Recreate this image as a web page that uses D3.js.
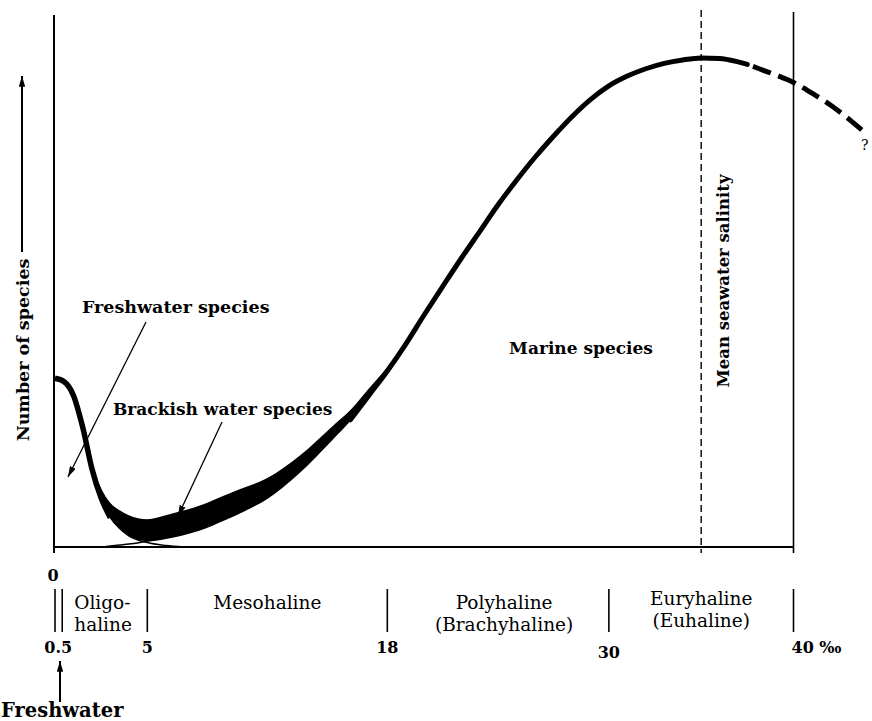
<!DOCTYPE html>
<html>
<head>
<meta charset="utf-8">
<script src="https://cdnjs.cloudflare.com/ajax/libs/d3/7.8.5/d3.min.js"></script>
<style>
    body { margin: 0; background: #fff; }
    svg { display: block; }
    text { font-family: 'DejaVu Serif', serif; fill: #000; }
</style>
</head>
<body>
<div id="chart"></div>
<script>
//Datos (salinidad en ‰, número de especies en unidades relativas)
const salinity   = [0, 0.5, 1, 1.5, 2, 2.5, 3, 3.5, 4, 5, 6, 7, 8, 9, 10, 11.5, 13.3, 15, 16, 17, 18, 19, 20, 21, 22, 23, 24, 25, 26, 27, 28, 29, 30, 31, 32, 33, 34, 35, 36, 37, 37.5];
const freshwater = [34.5, 33.8, 31, 24.5, 16, 10, 6, 3.8, 2.3, 0.9, 0.3, 0, null, null, null, null, null, null, null, null, null, null, null, null, null, null, null, null, null, null, null, null, null, null, null, null, null, null, null, null, null];
const marine     = [null, null, null, null, null, 0, 0.2, 0.4, 0.6, 1.2, 1.8, 2.6, 3.7, 5.3, 7.0, 10, 15.5, 22, 26, 31, 36, 41.5, 47.5, 53.3, 59, 64.5, 70, 75, 79.7, 84, 88, 91.5, 94.3, 96.3, 97.8, 98.9, 99.6, 100, 99.9, 99.2, 98.7];
const brackish   = [null, null, null, 0.3, 1.0, 2.0, 3.0, 3.7, 4.2, 4.5, 4.7, 4.9, 5.0, 5.0, 4.8, 4.1, 3.3, 2.6, 2.0, 1.4, 0.8, 0.46, null, null, null, null, null, null, null, null, null, null, null, null, null, null, null, null, null, null, null];

//Continuación incierta (discontinua)
const salinityBeyond = [37.5, 38, 39, 40, 41, 42, 43, 44];
const marineBeyond   = [98.7, 98, 96.6, 95, 92.8, 90.4, 87.5, 84.3];

const meanSeawater = 35;
const zoneBounds = [0, 0.5, 5, 18, 30, 40];
const zoneTickLabels = ['0.5', '5', '18', '30', '40 ‰'];
const zoneNames = [['Oligo-', 'haline'], ['Mesohaline'], ['Polyhaline', '(Brachyhaline)'], ['Euryhaline', '(Euhaline)']];

let margin = {top: 58, right: 78, bottom: 174, left: 55},
    width = 872,
    height = 721;

let svg = d3.select('#chart')
    .append('svg')
        .attr('width', width)
        .attr('height', height);

let x = d3.scaleLinear()
    .domain([0, 40])
    .range([margin.left, width - margin.right - 0.5]);

let y = d3.scaleLinear()
    .domain([0, 100])
    .range([height - margin.bottom, margin.top]);

let rows = salinity.map(function(s, i) { return {s: s, f: freshwater[i], m: marine[i], b: brackish[i]}; });
let beyond = salinityBeyond.map(function(s, i) { return {s: s, m: marineBeyond[i]}; });

//Puntas de flecha
svg.append('defs').append('marker')
    .attr('id', 'head')
    .attr('viewBox', '0 0 10 6')
    .attr('refX', 10).attr('refY', 3)
    .attr('markerWidth', 11).attr('markerHeight', 6.5)
    .attr('markerUnits', 'userSpaceOnUse')
    .attr('orient', 'auto')
    .append('path')
        .attr('d', 'M0,0 L10,3 L0,6 Z')
        .attr('fill', '#000');

//Ejes y líneas verticales
let base = y(0);
svg.append('line')
    .attr('x1', x(0) - 1).attr('x2', x(0) - 1)
    .attr('y1', 15).attr('y2', base + 6)
    .attr('stroke', '#000').attr('stroke-width', 2);

svg.append('line')
    .attr('x1', x(0) - 1).attr('x2', x(40))
    .attr('y1', base).attr('y2', base)
    .attr('stroke', '#000').attr('stroke-width', 1.8);

svg.append('line')
    .attr('x1', x(40)).attr('x2', x(40))
    .attr('y1', 12).attr('y2', base + 6)
    .attr('stroke', '#000').attr('stroke-width', 1.6);

svg.append('line')
    .attr('x1', x(meanSeawater)).attr('x2', x(meanSeawater))
    .attr('y1', 10).attr('y2', base + 6)
    .attr('stroke', '#000').attr('stroke-width', 1.4)
    .attr('stroke-dasharray', '7,4');

//Área de especies salobres (por encima de la envolvente inferior)
let low = function(d) { return Math.max(d.f == null ? 0 : d.f, d.m == null ? 0 : d.m); };

let area = d3.area()
    .defined(function(d) { return d.b != null; })
    .x(function(d) { return x(d.s); })
    .y0(function(d) { return y(low(d)); })
    .y1(function(d) { return y(low(d) + d.b); })
    .curve(d3.curveMonotoneX);

svg.append('path')
    .datum(rows)
    .attr('d', area)
    .attr('fill', '#000');

let lineOf = function(key) {
    return d3.line()
        .defined(function(d) { return d[key] != null; })
        .x(function(d) { return x(d.s); })
        .y(function(d) { return y(d[key]); })
        .curve(d3.curveMonotoneX);
};

//Agua dulce
svg.append('path')
    .datum(rows)
    .attr('d', lineOf('f'))
    .attr('fill', 'none').attr('stroke', '#000').attr('stroke-width', 1.5);

svg.append('path')
    .datum(rows.filter(function(d) { return d.s <= 3; }))
    .attr('d', lineOf('f'))
    .attr('fill', 'none').attr('stroke', '#000').attr('stroke-width', 5.5);

//Marinas
svg.append('path')
    .datum(rows)
    .attr('d', lineOf('m'))
    .attr('fill', 'none').attr('stroke', '#000').attr('stroke-width', 1.5);

svg.append('path')
    .datum(rows.filter(function(d) { return d.s >= 16; }))
    .attr('d', lineOf('m'))
    .attr('fill', 'none').attr('stroke', '#000').attr('stroke-width', 5)
    .attr('stroke-linecap', 'round');

svg.append('path')
    .datum(beyond)
    .attr('d', lineOf('m'))
    .attr('fill', 'none').attr('stroke', '#000').attr('stroke-width', 5)
    .attr('stroke-dasharray', '19,8')
    .attr('stroke-dashoffset', 21);

svg.append('text')
    .attr('x', 861).attr('y', 150)
    .style('font-size', '14px')
    .text('?');

//Etiquetas de especies
svg.append('text')
    .attr('x', 82).attr('y', 313)
    .style('font-size', '17.5px').style('font-weight', 'bold')
    .text('Freshwater species');

svg.append('line')
    .attr('x1', 146).attr('y1', 322)
    .attr('x2', 68).attr('y2', 477)
    .attr('stroke', '#000').attr('stroke-width', 1.3)
    .attr('marker-end', 'url(#head)');

svg.append('text')
    .attr('x', 113).attr('y', 415)
    .style('font-size', '17px').style('font-weight', 'bold')
    .text('Brackish water species');

svg.append('line')
    .attr('x1', 222).attr('y1', 422)
    .attr('x2', 178).attr('y2', 516)
    .attr('stroke', '#000').attr('stroke-width', 1.3)
    .attr('marker-end', 'url(#head)');

svg.append('text')
    .attr('x', 581).attr('y', 354)
    .attr('text-anchor', 'middle')
    .style('font-size', '17px').style('font-weight', 'bold')
    .text('Marine species');

svg.append('text')
    .attr('transform', 'translate(729,' + 281 + ') rotate(-90)')
    .attr('text-anchor', 'middle')
    .style('font-size', '16.5px').style('font-weight', 'bold')
    .text('Mean seawater salinity');

//Título eje Y con flecha
svg.append('text')
    .attr('transform', 'translate(29,' + 350 + ') rotate(-90)')
    .attr('text-anchor', 'middle')
    .style('font-size', '17.5px').style('font-weight', 'bold')
    .text('Number of species');

svg.append('line')
    .attr('x1', 22).attr('x2', 22)
    .attr('y1', 252).attr('y2', 76)
    .attr('stroke', '#000').attr('stroke-width', 2)
    .attr('marker-end', 'url(#head)');

//Zonas de salinidad
svg.append('text')
    .attr('x', x(0) - 2).attr('y', 581)
    .attr('text-anchor', 'middle')
    .style('font-size', '16px').style('font-weight', 'bold')
    .text('0');

svg.selectAll('.zone-line')
    .data(zoneBounds)
    .enter()
    .append('line')
    .attr('class', 'zone-line')
    .attr('x1', function(d) { return d == 0.5 ? x(d) - 2 : x(d); })
    .attr('x2', function(d) { return d == 0.5 ? x(d) - 2 : x(d); })
    .attr('y1', 589).attr('y2', 632)
    .attr('stroke', '#000').attr('stroke-width', 1.6);

svg.selectAll('.zone-tick')
    .data(zoneTickLabels)
    .enter()
    .append('text')
    .attr('class', 'zone-tick')
    .attr('x', function(d, i) { let b = zoneBounds[i + 1]; return i == 4 ? x(b) - 2 : (i == 0 ? x(b) - 6 : x(b)); })
    .attr('y', function(d, i) { return i == 3 ? 658 : 653; })
    .attr('text-anchor', function(d, i) { return i == 4 ? 'start' : 'middle'; })
    .style('font-size', '16px').style('font-weight', 'bold')
    .text(function(d) { return d; });

zoneNames.forEach(function(names, i) {
    let mid = (zoneBounds[i + 1] + zoneBounds[i + 2]) / 2;
    let top = i == 3 ? 605 : 609;
    names.forEach(function(n, j) {
        svg.append('text')
            .attr('x', i == 0 ? x(zoneBounds[1]) + 10 : x(mid) + (i == 2 ? 6 : 0))
            .attr('y', top + j * 22)
            .attr('text-anchor', i == 0 ? 'start' : 'middle')
            .style('font-size', '18.5px')
            .text(n);
    });
});

//Agua dulce (flecha inferior)
svg.append('line')
    .attr('x1', 60).attr('x2', 60)
    .attr('y1', 702).attr('y2', 661)
    .attr('stroke', '#000').attr('stroke-width', 2)
    .attr('marker-end', 'url(#head)');

svg.append('text')
    .attr('x', 1).attr('y', 717)
    .style('font-size', '19.5px').style('font-weight', 'bold')
    .text('Freshwater');
</script>
</body>
</html>
